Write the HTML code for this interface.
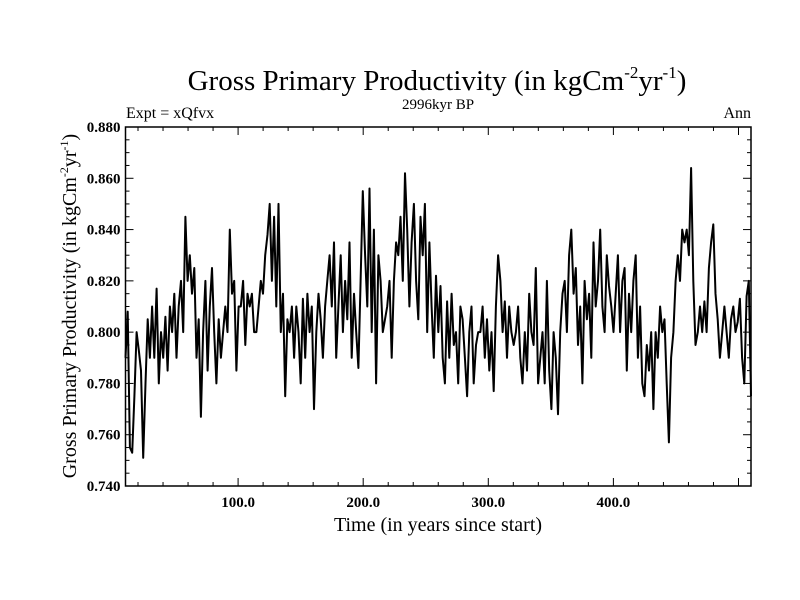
<!DOCTYPE html>
<html><head><meta charset="utf-8"><style>
body{margin:0;background:#fff;}
svg{display:block;font-family:"Liberation Serif",serif;}
</style></head><body>
<svg id="chart" width="800" height="600" viewBox="0 0 800 600">
<text x="437" y="90" font-size="29" text-anchor="middle">Gross Primary Productivity (in kgCm<tspan font-size="17" dy="-12">-2</tspan><tspan dy="12">yr</tspan><tspan font-size="17" dy="-12">-1</tspan><tspan dy="12">)</tspan></text>
<text x="126" y="118" font-size="16">Expt = xQfvx</text>
<text x="438" y="109" font-size="15" text-anchor="middle">2996kyr BP</text>
<text x="751" y="118" font-size="16" text-anchor="end">Ann</text>
<text x="438" y="531" font-size="20" text-anchor="middle">Time (in years since start)</text>
<text transform="translate(76,306) rotate(-90)" font-size="20" text-anchor="middle">Gross Primary Productivity (in kgCm<tspan font-size="12" dy="-8">-2</tspan><tspan dy="8">yr</tspan><tspan font-size="12" dy="-8">-1</tspan><tspan dy="8">)</tspan></text>
<g id="axes"></g>
<path id="series" fill="none" stroke="#000" stroke-width="2" stroke-linejoin="round"/>
<rect x="125.5" y="127" width="625.5" height="359" fill="none" stroke="#000" stroke-width="1.5"/>
</svg>
<script>
const yTicks=[0.740,0.760,0.780,0.800,0.820,0.840,0.860,0.880];
const yTickLabels=["0.740","0.760","0.780","0.800","0.820","0.840","0.860","0.880"];
const xTicks=[100,200,300,400];
const xTickLabels=["100.0","200.0","300.0","400.0"];
const gppValues=[
0.79,0.808,0.755,0.753,0.775,0.800,0.793,0.785,0.751,0.78,0.805,0.79,0.81,0.79,0.817,
0.78,0.80,0.79,0.806,0.785,0.81,0.80,0.815,0.79,0.81,0.82,0.80,0.845,0.82,0.83,
0.815,0.825,0.79,0.805,0.767,0.80,0.82,0.785,0.81,0.825,0.80,0.78,0.805,
0.79,0.80,0.81,0.80,0.84,0.815,0.82,0.785,0.81,0.81,0.82,0.795,0.815,0.81,0.815,0.8,
0.80,0.81,0.82,0.815,0.83,0.838,0.85,0.82,0.845,0.81,0.85,0.80,0.815,0.775,0.805,0.80,
0.81,0.79,0.81,0.80,0.78,0.813,0.79,0.815,0.80,0.81,0.77,0.80,0.815,0.805,0.79,0.81,
0.82,0.83,0.81,0.835,0.79,0.81,0.83,0.80,0.82,0.805,0.835,0.79,0.815,0.80,0.786,0.82,0.855,0.83,
0.81,0.856,0.80,0.84,0.78,0.83,0.82,0.80,0.805,0.81,0.82,0.79,0.82,0.835,0.83,0.845,0.82,0.862,
0.84,0.81,0.835,0.85,0.82,0.805,0.845,0.83,0.85,0.80,0.835,0.81,0.79,0.822,0.80,0.818,0.79,
0.78,0.812,0.79,0.815,0.795,0.80,0.78,0.81,0.805,0.79,0.775,0.8,0.81,0.78,0.795,0.80,
0.80,0.81,0.79,0.805,0.785,0.80,0.777,0.81,0.83,0.82,0.80,0.812,0.79,0.81,0.80,0.795,
0.80,0.81,0.79,0.78,0.80,0.785,0.815,0.80,0.795,0.825,0.78,0.79,0.80,0.78,0.82,0.785,
0.77,0.80,0.79,0.768,0.80,0.815,0.82,0.80,0.83,0.84,0.815,0.825,0.795,0.81,0.78,0.82,
0.805,0.815,0.79,0.835,0.81,0.82,0.84,0.81,0.80,0.83,0.818,0.81,0.8,0.815,0.83,0.80,
0.82,0.825,0.785,0.815,0.80,0.82,0.83,0.79,0.81,0.78,0.775,0.795,0.785,0.80,0.77,0.80,
0.79,0.81,0.80,0.805,0.78,0.757,0.79,0.80,0.82,0.83,0.82,0.84,0.835,0.84,0.83,0.864,
0.82,0.795,0.80,0.81,0.80,0.812,0.80,0.825,0.835,0.842,0.815,0.805,0.79,0.80,0.81,0.80,
0.79,0.805,0.81,0.80,0.804,0.813,0.79,0.78,0.814,0.82,0.775];
const xStart=10, xEnd=510, yMin=0.74, yMax=0.88;
const L=125.5,R=751,T=127,B=486;
const sx=v=>L+(v-xStart)/(xEnd-xStart)*(R-L);
const sy=v=>B-(v-yMin)/(yMax-yMin)*(B-T);
const NS="http://www.w3.org/2000/svg";
const axes=document.getElementById('axes');
function line(x1,y1,x2,y2,name){const l=document.createElementNS(NS,'line');
l.setAttribute('x1',x1);l.setAttribute('y1',y1);l.setAttribute('x2',x2);l.setAttribute('y2',y2);
l.setAttribute('stroke','#000');l.setAttribute('stroke-width','1');


axes.appendChild(l);}
function text(x,y,s,anchor,name){const t=document.createElementNS(NS,'text');
t.setAttribute('x',x);t.setAttribute('y',y);t.setAttribute('font-size','15');t.setAttribute('font-weight','bold');t.setAttribute('text-anchor',anchor);t.textContent=s;


axes.appendChild(t);}
for(let v=0.74;v<=0.8801;v+=0.005){const y=sy(v);const major=Math.abs(Math.round(v*1000)%20)<1;const len=major?8:4;
line(L,y,L+len,y,'y-tick');line(R,y,R-len,y,'y-tick');}
yTicks.forEach((v,i)=>text(L-5,sy(v)+5,yTickLabels[i],'end','y-tick-label'));
for(let v=20;v<xEnd;v+=20){const x=sx(v);const major=v%100===0;const len=major?8:4;
line(x,B,x,B-len,'x-tick');line(x,T,x,T+len,'x-tick');}
xTicks.forEach((v,i)=>text(sx(v),B+21,xTickLabels[i],'middle','x-tick-label'));
const n=gppValues.length;
const d=gppValues.map((v,i)=>(i?'L':'M')+sx(xStart+i*(xEnd-xStart)/(n-1)).toFixed(1)+','+sy(v).toFixed(1)).join('');
document.getElementById('series').setAttribute('d',d);
</script>
</body></html>
